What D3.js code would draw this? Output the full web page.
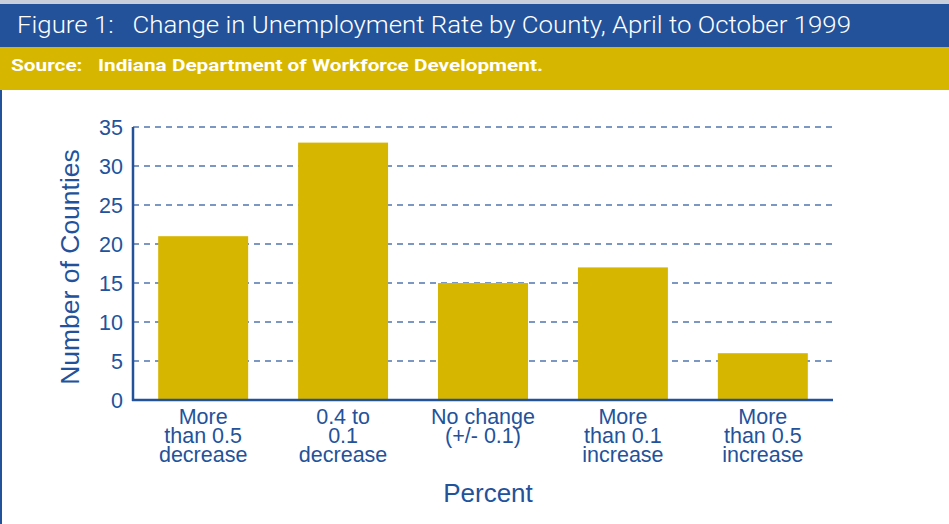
<!DOCTYPE html>
<html>
<head>
<meta charset="utf-8">
<script src="https://cdn.jsdelivr.net/npm/d3@7"></script>
<style>
body{margin:0;background:#fff;}
svg{display:block;}
</style>
</head>
<body>
<svg id="chart" width="949" height="524"></svg>
<script>
var categories=[
  ["More","than 0.5","decrease"],
  ["0.4 to","0.1","decrease"],
  ["No change","(+/- 0.1)"],
  ["More","than 0.1","increase"],
  ["More","than 0.5","increase"]
];
var counties=[21,33,15,17,6];
var yTicks=[0,5,10,15,20,25,30,35];
var titleText="Figure 1:   Change in Unemployment Rate by County, April to October 1999";
var sourceText="Source:   Indiana Department of Workforce Development.";

var blue="#23529b";
var gold="#d7b600";

var svg=d3.select("#chart");

// header bands
svg.append("rect").attr("x",0).attr("y",0).attr("width",949).attr("height",4).attr("fill","#c9d0dc");
svg.append("rect").attr("x",0).attr("y",4).attr("width",949).attr("height",43).attr("fill",blue);
svg.append("rect").attr("x",0).attr("y",47).attr("width",949).attr("height",43).attr("fill",gold);
svg.append("rect").attr("x",0).attr("y",90).attr("width",2).attr("height",434).attr("fill",blue);

svg.append("text")
  .attr("x",17).attr("y",33)
  .attr("fill","#fff")
  .attr("textLength",834)
  .attr("lengthAdjust","spacingAndGlyphs")
  .style("font-family","Roboto,'Liberation Sans',sans-serif")
  .style("font-weight","300")
  .style("font-size","23px")
  .style("white-space","pre")
  .text(titleText);

svg.append("text")
  .attr("x",11).attr("y",71)
  .attr("fill","#fff")
  .attr("textLength",532)
  .attr("lengthAdjust","spacingAndGlyphs")
  .style("font-family","Roboto,'Liberation Sans',sans-serif")
  .style("font-weight","bold")
  .style("font-size","17px")
  .style("white-space","pre")
  .text(sourceText);

var mLeft=133,mRight=833,mTop=127,mBottom=400;

var x=d3.scaleBand()
  .domain(d3.range(counties.length))
  .range([mLeft,mRight])
  .paddingInner(0.357)
  .paddingOuter(0.18);

var y=d3.scaleLinear().domain([0,35]).range([mBottom,mTop]);

var g=svg.append("g");

// grid
g.selectAll(".grid")
  .data(yTicks.slice(1))
  .enter().append("line")
  .attr("x1",mLeft).attr("x2",mRight)
  .attr("y1",function(d){return y(d);})
  .attr("y2",function(d){return y(d);})
  .attr("stroke","#5077b3")
  .attr("stroke-width",1.3)
  .attr("stroke-dasharray","6,5");

// bars
g.selectAll(".bar")
  .data(counties)
  .enter().append("rect")
  .attr("x",function(d,i){return x(i);})
  .attr("width",x.bandwidth())
  .attr("y",function(d){return y(d);})
  .attr("height",function(d){return mBottom-y(d);})
  .attr("fill",gold);

// axis lines
g.append("line").attr("x1",mLeft).attr("x2",mLeft).attr("y1",mTop).attr("y2",mBottom+1)
  .attr("stroke",blue).attr("stroke-width",2.5);
g.append("line").attr("x1",mLeft-1).attr("x2",mRight).attr("y1",mBottom).attr("y2",mBottom)
  .attr("stroke",blue).attr("stroke-width",2.5);

var font="'Liberation Sans',Arial,sans-serif";

g.selectAll(".ytick")
  .data(yTicks)
  .enter().append("text")
  .attr("x",mLeft-10)
  .attr("y",function(d){return y(d)+8;})
  .attr("text-anchor","end")
  .attr("fill",blue)
  .style("font-family",font)
  .style("font-size","21.5px")
  .text(function(d){return d;});

var cat=g.selectAll(".cat")
  .data(categories)
  .enter().append("text")
  .attr("text-anchor","middle")
  .attr("fill",blue)
  .style("font-family",font)
  .style("font-size","21.5px");
cat.selectAll("tspan")
  .data(function(d,i){return d.map(function(s){return {s:s,i:i};});})
  .enter().append("tspan")
  .attr("x",function(d){return x(d.i)+x.bandwidth()/2;})
  .attr("y",function(d,j){return 424+j*19;})
  .text(function(d){return d.s;});

svg.append("text")
  .attr("transform","translate(79,267) rotate(-90)")
  .attr("text-anchor","middle")
  .attr("fill",blue)
  .style("font-family",font)
  .style("font-size","26.5px")
  .text("Number of Counties");

svg.append("text")
  .attr("x",488).attr("y",502)
  .attr("text-anchor","middle")
  .attr("fill",blue)
  .style("font-family",font)
  .style("font-size","26px")
  .text("Percent");
</script>
</body>
</html>
